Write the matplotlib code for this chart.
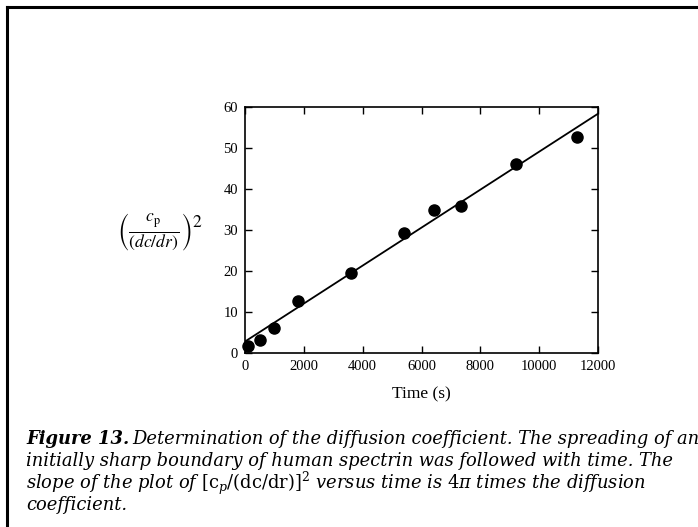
import numpy as np
import matplotlib.pyplot as plt
from matplotlib.lines import Line2D

# data
time_s = [100, 500, 985, 1810, 3615, 5405, 6415, 7330, 9200, 11290]
cp_ratio_sq = [1.6, 3.1, 6.2, 12.8, 19.4, 29.3, 34.8, 35.9, 46.2, 52.8]
fit_slope = 0.00463
fit_intercept = 2.8
x_ticks = [0, 2000, 4000, 6000, 8000, 10000, 12000]
y_ticks = [0, 10, 20, 30, 40, 50, 60]

plt.rcParams['font.family'] = ['Liberation Serif']
plt.rcParams['mathtext.fontset'] = 'stix'

fig = plt.figure(figsize=(6.98, 5.27), dpi=100)
W, H = 698, 527
ax = fig.add_axes([245 / W, 1 - 353 / H, (598 - 245) / W, (353 - 107) / H])

# fitted line
fit_x = np.array([0, 12000])
ax.plot(fit_x, fit_intercept + fit_slope * fit_x, color='black', linewidth=1.3, zorder=2)
ax.scatter(time_s, cp_ratio_sq, s=64, color='black', zorder=3, clip_on=False)

ax.set_xlim(0, 12000)
ax.set_ylim(0, 60)
ax.set_xticks(x_ticks)
ax.set_yticks(y_ticks)
ax.tick_params(direction='in', top=True, right=True, length=5, width=1,
               labelsize=10.5, pad=5)
for s in ax.spines.values():
    s.set_linewidth(1.2)

ax.set_xlabel('Time (s)', fontsize=12.5, labelpad=10)
fig.text(160 / W, 1 - 232 / H, r'$\left(\frac{c_{\mathrm{p}}}{(dc/dr)}\right)^{2}$',
         fontsize=18, ha='center', va='center')

# frame lines (top and left)
fig.add_artist(Line2D([7 / W, 1], [1 - 7 / H, 1 - 7 / H], color='black', linewidth=2.2,
                      transform=fig.transFigure))
fig.add_artist(Line2D([7 / W, 7 / W], [0, 1 - 7 / H], color='black', linewidth=2.2,
                      transform=fig.transFigure))

# caption
cap = dict(fontsize=12.9, style='italic', family='DejaVu Serif', va='center', ha='left',
           math_fontfamily='dejavuserif')
x0 = 26
y0 = 439
head = fig.text(x0 / W, 1 - y0 / H, 'Figure 13.', weight='bold', **cap)
fig.canvas.draw()
bb = head.get_window_extent()
fig.text((bb.x1 + 3) / W, 1 - y0 / H,
         'Determination of the diffusion coefficient. The spreading of an', **cap)
fig.text(x0 / W, 1 - (y0 + 22) / H,
         'initially sharp boundary of human spectrin was followed with time. The', **cap)
fig.text(x0 / W, 1 - (y0 + 44) / H,
         r'slope of the plot of $[\mathrm{c}_p/(\mathrm{dc/dr})]^2$ versus time is $4\pi$ times the diffusion',
         **cap)
fig.text(x0 / W, 1 - (y0 + 66) / H, 'coefficient.', **cap)

plt.savefig('out.png', dpi=100)
